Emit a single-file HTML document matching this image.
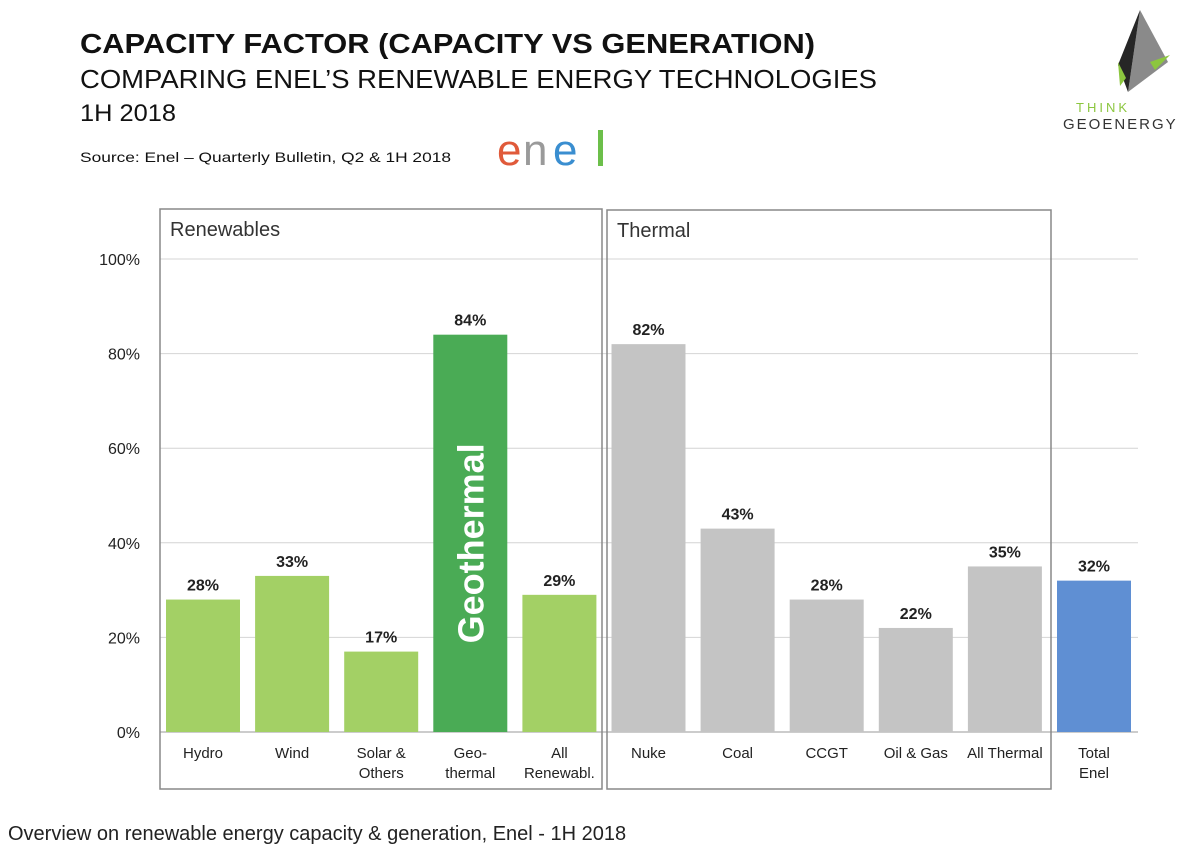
<!DOCTYPE html>
<html><head><meta charset="utf-8"><style>
body{margin:0;background:#fff;width:1200px;height:846px;overflow:hidden;font-family:"Liberation Sans",sans-serif;}
svg text{font-family:"Liberation Sans",sans-serif;}
</style></head><body>
<svg width="1200" height="846">
<text x="80" y="53" font-size="28" font-weight="bold" fill="#111" textLength="735" lengthAdjust="spacingAndGlyphs">CAPACITY FACTOR (CAPACITY VS GENERATION)</text>
<text x="80" y="88" font-size="26" fill="#111" textLength="797" lengthAdjust="spacingAndGlyphs">COMPARING ENEL’S RENEWABLE ENERGY TECHNOLOGIES</text>
<text x="80" y="121" font-size="24" fill="#111" textLength="96" lengthAdjust="spacingAndGlyphs">1H 2018</text>
<text x="80" y="162" font-size="14" fill="#111" textLength="371" lengthAdjust="spacingAndGlyphs">Source: Enel – Quarterly Bulletin, Q2 &amp; 1H 2018</text>
<g>
<text x="497" y="165" font-size="44" fill="#e05a3a">e</text>
<text x="523" y="165" font-size="44" fill="#9a9a9a">n</text>
<text x="553" y="165" font-size="44" fill="#3a8ed0">e</text>
<rect x="598" y="130" width="5" height="36" fill="#6cbf4a"/>
</g>
<g>
<polygon points="1140,10 1168,62 1128,92" fill="#8a8a8a"/>
<polygon points="1140,10 1128,92 1118,65" fill="#262626"/>
<polygon points="1150,62 1170,55 1155,70" fill="#8cc63f"/>
<polygon points="1118,62 1126,78 1120,86" fill="#8cc63f"/>
<text x="1076" y="112" font-size="13" fill="#8cc63f" letter-spacing="3">THINK</text>
<text x="1063" y="129" font-size="15" fill="#333" letter-spacing="2">GEOENERGY</text>
</g>
<g id="grid"></g>
<g id="yax"></g>
<g id="bars"></g>
<rect x="160" y="209" width="442" height="580" fill="none" stroke="#888" stroke-width="1.5"/>
<text x="170" y="236" font-size="20" fill="#333">Renewables</text>
<rect x="607" y="210" width="444" height="579" fill="none" stroke="#888" stroke-width="1.5"/>
<text x="617" y="237" font-size="20" fill="#333">Thermal</text>
<text x="8" y="840" font-size="20" fill="#222">Overview on renewable energy capacity &amp; generation, Enel - 1H 2018</text>
</svg>
<script>
const categories=[["Hydro"],["Wind"],["Solar &","Others"],["Geo-","thermal"],["All","Renewabl."],["Nuke"],["Coal"],["CCGT"],["Oil & Gas"],["All Thermal"],["Total","Enel"]];
const values=[28,33,17,84,29,82,43,28,22,35,32];
const colors=["#a3d065","#a3d065","#a3d065","#4aab55","#a3d065","#c4c4c4","#c4c4c4","#c4c4c4","#c4c4c4","#c4c4c4","#5f8fd3"];
const yTicks=[0,20,40,60,80,100];
const NS="http://www.w3.org/2000/svg";
const y=v=>732-v*4.73;
const x=i=>166+i*89.1;
const bw=74;
function mk(t,a,p,txt){const e=document.createElementNS(NS,t);for(const k in a)e.setAttribute(k,a[k]);if(txt!==undefined)e.textContent=txt;p.appendChild(e);return e;}
const grid=document.getElementById('grid'),yax=document.getElementById('yax'),bars=document.getElementById('bars');
yTicks.forEach(t=>{
 const l=mk('line',{x1:160,x2:1138,y1:y(t),y2:y(t),stroke:t===0?'#999':'#d4d4d4','stroke-width':1},grid);
 
 
 const tx=mk('text',{x:140,y:y(t)+6,'font-size':16,'text-anchor':'end',fill:'#222'},yax,t+'%');
 
 
});
values.forEach((v,i)=>{
 const r=mk('rect',{x:x(i),y:y(v),width:bw,height:y(0)-y(v),fill:colors[i]},bars);
 
 
 const lb=mk('text',{x:x(i)+bw/2,y:y(v)-9,'font-size':16,'font-weight':'bold','text-anchor':'middle',fill:'#222'},bars,v+'%');
 
 
 categories[i].forEach((ln,j)=>{
  const c=mk('text',{x:x(i)+bw/2,y:758+j*20,'font-size':15,'text-anchor':'middle',fill:'#222'},bars,ln);
  
  
 });
 if(i===3){
  const cx=x(i)+bw/2, cy=(y(v)+y(0))/2+10;
  const g=mk('text',{x:cx,y:cy+13,'font-size':36,'font-weight':'bold','text-anchor':'middle',fill:'#fff',transform:`rotate(-90 ${cx} ${cy})`},bars,'Geothermal');
  
  
 }
});
</script>
</body></html>
